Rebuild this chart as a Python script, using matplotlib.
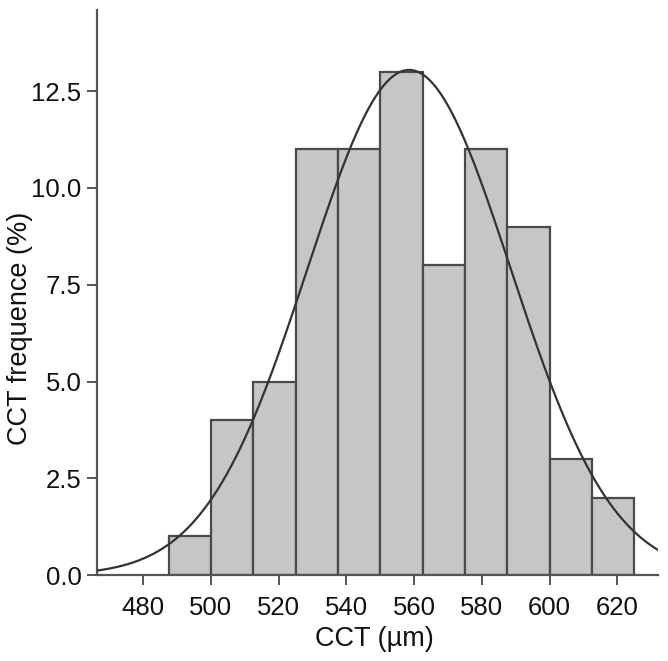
import numpy as np
import matplotlib
matplotlib.use("Agg")
import matplotlib.pyplot as plt

plt.rcParams['font.family'] = ['Liberation Sans', 'DejaVu Sans']

# Histogram bins (CCT, µm) and frequencies (%)
bin_edges = [487.5, 500, 512.5, 525, 537.5, 550, 562.5, 575, 587.5, 600, 612.5, 625]
freq = [1, 4, 5, 11, 11, 13, 8, 11, 9, 3, 2]

# Fitted normal curve parameters
curve_mean = 558.5
curve_sd = 30.0
curve_peak = 13.05

x_ticks = [480, 500, 520, 540, 560, 580, 600, 620]
y_ticks = [0.0, 2.5, 5.0, 7.5, 10.0, 12.5]

fig = plt.figure(figsize=(6.68, 6.61), dpi=100)
ax = fig.add_axes([0.145, 0.130, 0.840, 0.855])

edges = np.array(bin_edges)
ax.bar(edges[:-1], freq, width=np.diff(edges), align='edge',
       color='#c6c6c6', edgecolor='#4a4a4a', linewidth=1.6, zorder=2)

xs = np.linspace(460, 640, 400)
ys = curve_peak * np.exp(-(xs - curve_mean) ** 2 / (2 * curve_sd ** 2))
ax.plot(xs, ys, color='#333333', linewidth=1.6, zorder=3)

ax.set_xlim(466.3, 632)
ax.set_ylim(0, 14.6)
ax.set_xticks(x_ticks)
ax.set_yticks(y_ticks)
ax.set_yticklabels([f"{v:.1f}" for v in y_ticks])

for s in ['top', 'right']:
    ax.spines[s].set_visible(False)
for s in ['left', 'bottom']:
    ax.spines[s].set_color('#555555')
    ax.spines[s].set_linewidth(1.6)
ax.tick_params(direction='out', length=7, width=1.4, color='#555555',
               labelsize=18.5, labelcolor='#111111', pad=4)
ax.tick_params(axis='x', pad=8)

ax.set_xlabel('CCT (µm)', fontsize=19.5, color='#111111')
ax.set_ylabel('CCT frequence (%)', fontsize=19.5, color='#111111')
ax.xaxis.set_label_coords(0.495, -0.090)
ax.yaxis.set_label_coords(-0.114, 0.437)

fig.savefig('out.png', dpi=100)
